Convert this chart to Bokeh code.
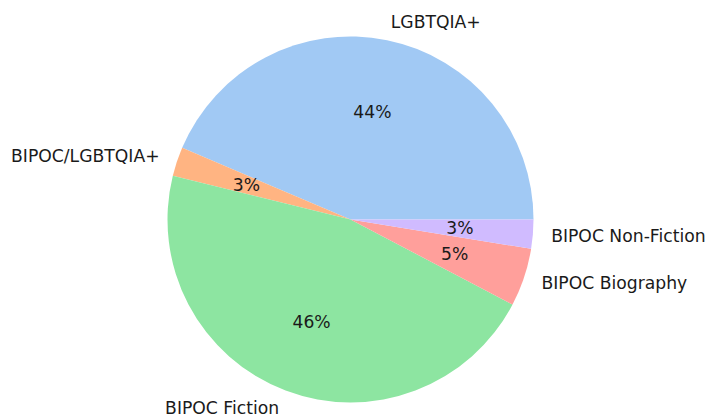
import numpy as np
from bokeh.plotting import figure
from bokeh.models import Range1d, ColumnDataSource
from bokeh.core.properties import value
from bokeh.embed import file_html
from bokeh.resources import INLINE

categories = ["LGBTQIA+", "BIPOC/LGBTQIA+", "BIPOC Fiction", "BIPOC Biography", "BIPOC Non-Fiction"]
counts = [17, 1, 18, 2, 1]
colors = ["#a1c9f4", "#ffb482", "#8de5a1", "#ff9f9b", "#d0bbff"]

vals = np.array(counts, dtype=float)
frac = vals / vals.sum()
ends = np.cumsum(frac) * 2 * np.pi
starts = np.concatenate([[0.0], ends[:-1]])
mids = (starts + ends) / 2

R = 183.0
cx, cy = 350.0, 219.0
W, H = 708, 419
x0 = -cx / R
x1 = (W - cx) / R
y1 = cy / R
y0 = (cy - H) / R

p = figure(width=W, height=H, output_backend="svg", toolbar_location=None,
           x_range=Range1d(x0, x1), y_range=Range1d(y0, y1),
           min_border=0, outline_line_color=None)
p.axis.visible = False
p.grid.visible = False
p.background_fill_color = "white"
p.border_fill_color = "white"

src = ColumnDataSource(dict(start=starts, end=ends, color=colors))
p.wedge(x=0, y=0, radius=1.0, start_angle="start", end_angle="end",
        fill_color="color", line_color=None, source=src)

lx = 1.1 * np.cos(mids)
ly = 1.1 * np.sin(mids)
align = ["left" if v > 0 else "right" for v in lx]
lab = ColumnDataSource(dict(x=lx, y=ly, t=categories, a=align))
p.text(x="x", y="y", text="t", text_align="a", text_baseline="middle",
       text_font=value("DejaVu Sans"), text_font_size="17.2px", text_color="#1a1a1a",
       source=lab)

px = 0.6 * np.cos(mids)
py = 0.6 * np.sin(mids)
pct = [f"{f*100:.0f}%" for f in frac]
pl = ColumnDataSource(dict(x=px, y=py, t=pct))
p.text(x="x", y="y", text="t", text_align="center", text_baseline="middle",
       text_font=value("DejaVu Sans"), text_font_size="17.2px", text_color="#1a1a1a",
       source=pl)

open("out.html", "w").write(file_html(p, INLINE))
